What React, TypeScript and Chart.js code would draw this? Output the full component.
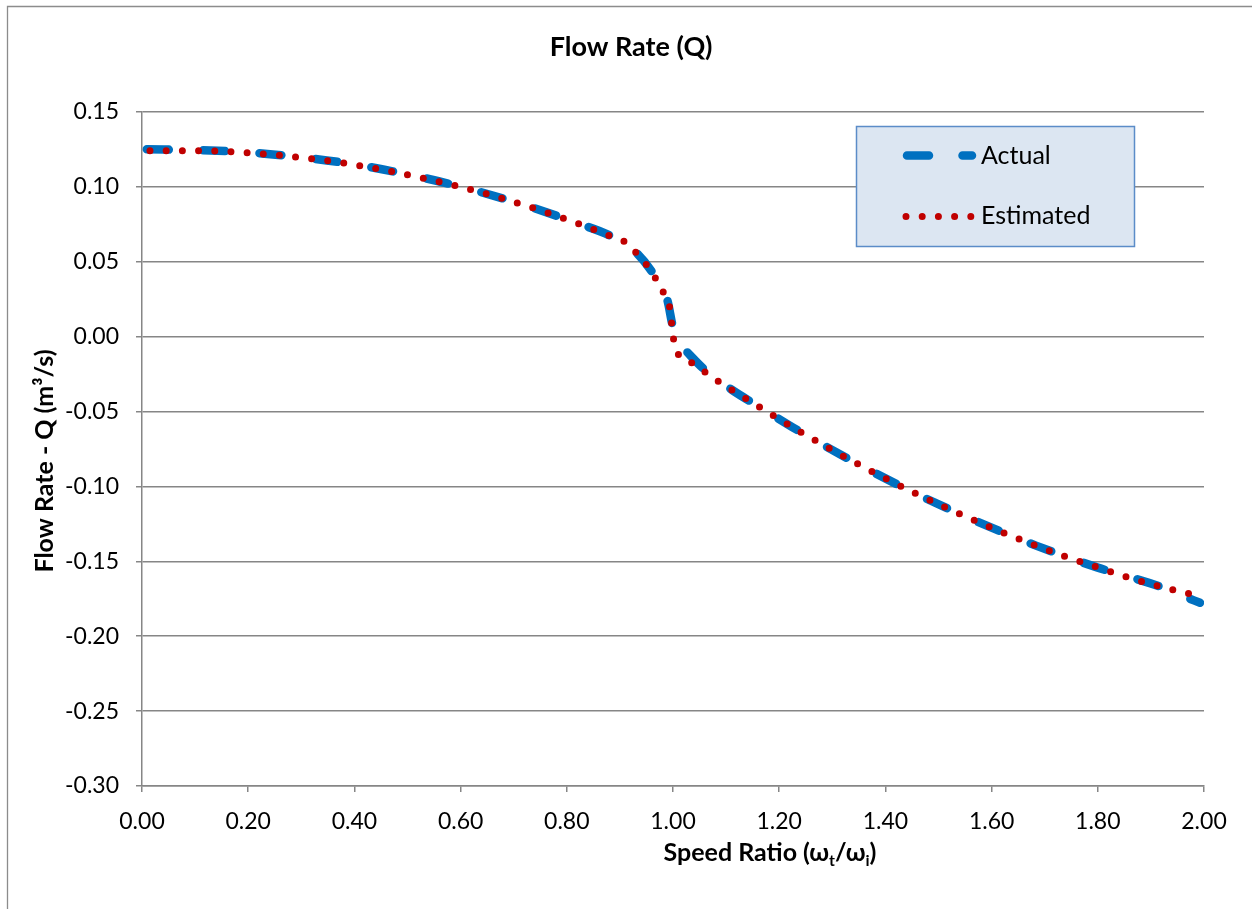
import React, { useEffect, useRef } from "react";
import { Chart, registerables } from "chart.js";

Chart.register(...registerables);

// ---- Data ----
const estX = [0.015, 0.107, 0.199, 0.291, 0.382, 0.412, 0.472, 0.533, 0.5926, 0.651, 0.71, 0.768, 0.826, 0.8827, 0.9115, 0.9317, 0.9505, 0.968, 0.9825, 0.9938, 0.9976, 1.0013, 1.01, 1.0358, 1.0608, 1.086, 1.1117, 1.138, 1.1638, 1.19, 1.242, 1.296, 1.3497, 1.4036, 1.459, 1.514, 1.5706, 1.6266, 1.6836, 1.741, 1.8, 1.857, 1.916, 1.976];
const estY = [0.1241, 0.1241, 0.1228, 0.1199, 0.1158, 0.114, 0.1102, 0.1055, 0.1007, 0.0951, 0.0889, 0.0822, 0.0749, 0.0671, 0.0629, 0.0556, 0.0478, 0.0385, 0.0291, 0.0193, 0.0083, -0.0022, -0.0117, -0.0175, -0.0237, -0.03, -0.0357, -0.0415, -0.0471, -0.0529, -0.064, -0.0749, -0.0853, -0.0953, -0.1051, -0.1142, -0.1231, -0.1315, -0.1395, -0.147, -0.154, -0.1607, -0.1667, -0.172];

const actX = [0.009, 0.107, 0.199, 0.291, 0.382, 0.472, 0.5926, 0.71, 0.826, 0.8827, 0.9317, 0.968, 0.9893, 0.9994, 1.01, 1.0258, 1.06, 1.1117, 1.1638, 1.242, 1.3497, 1.459, 1.5706, 1.6836, 1.8, 1.916, 1.961, 1.9925];
const actY = [0.1251, 0.1245, 0.1231, 0.1201, 0.116, 0.1104, 0.1008, 0.089, 0.075, 0.0672, 0.0558, 0.0392, 0.0245, 0.0071, -0.004, -0.01, -0.0222, -0.0357, -0.0471, -0.064, -0.0853, -0.1051, -0.1231, -0.1395, -0.1542, -0.1667, -0.1733, -0.1777];

const seriesNames = ["Actual", "Estimated"];
const chartTitle = "Flow Rate (Q)";
const yAxisTitle = "Flow Rate - Q (m³/s)";
const xMin = 0, xMax = 2, xStep = 0.2;
const yMin = -0.3, yMax = 0.15, yStep = 0.05;

const FONT = "Lato, 'Open Sans', sans-serif";
const BLUE = "#0070c0";
const RED = "#c00000";
const GRID = "#868686";

const decorPlugin = {
  id: "decor",
  beforeDraw(chart: any) {
    const ctx = chart.ctx;
    ctx.save();
    ctx.fillStyle = "#ffffff";
    ctx.fillRect(0, 0, chart.width, chart.height);
    ctx.restore();
  },
  afterDraw(chart: any) {
    const ctx = chart.ctx;
    ctx.save();
    // outer frame
    ctx.strokeStyle = "#8c8c8c";
    ctx.lineWidth = 1.3;
    ctx.beginPath();
    ctx.moveTo(7.5, chart.height + 5);
    ctx.lineTo(7.5, 6.5);
    ctx.lineTo(chart.width + 5, 6.5);
    ctx.stroke();

    // title
    ctx.fillStyle = "#000";
    ctx.font = `bold 27px ${FONT}`;
    ctx.textAlign = "center";
    ctx.textBaseline = "middle";
    ctx.fillText(chartTitle, 631, 47);

    // y title
    ctx.save();
    ctx.translate(45, 461);
    ctx.rotate(-Math.PI / 2);
    ctx.font = `bold 25px ${FONT}`;
    ctx.textAlign = "center";
    ctx.textBaseline = "middle";
    ctx.fillText(yAxisTitle, 0, 0);
    ctx.restore();

    // x title with subscripts
    const parts: [string, boolean][] = [
      ["Speed Ratio (ω", false],
      ["t", true],
      ["/ω", false],
      ["i", true],
      [")", false],
    ];
    const mainF = `bold 25px ${FONT}`;
    const subF = `bold 16px ${FONT}`;
    let total = 0;
    for (const [t, s] of parts) {
      ctx.font = s ? subF : mainF;
      total += ctx.measureText(t).width;
    }
    let x = 770 - total / 2;
    ctx.textAlign = "left";
    ctx.textBaseline = "alphabetic";
    const base = 861;
    for (const [t, s] of parts) {
      ctx.font = s ? subF : mainF;
      ctx.fillText(t, x, s ? base + 5 : base);
      x += ctx.measureText(t).width;
    }

    // legend
    ctx.fillStyle = "#dce6f2";
    ctx.fillRect(856.5, 126.5, 278, 120);
    ctx.strokeStyle = "#5b8cc8";
    ctx.lineWidth = 1.5;
    ctx.strokeRect(856.5, 126.5, 278, 120);

    ctx.lineCap = "round";
    ctx.strokeStyle = BLUE;
    ctx.lineWidth = 8.5;
    ctx.setLineDash([22, 33.5]);
    ctx.beginPath();
    ctx.moveTo(907, 155.5);
    ctx.lineTo(972, 155.5);
    ctx.stroke();

    ctx.strokeStyle = RED;
    ctx.lineWidth = 7;
    ctx.setLineDash([0, 16.2]);
    ctx.beginPath();
    ctx.moveTo(906, 216.5);
    ctx.lineTo(972, 216.5);
    ctx.stroke();
    ctx.setLineDash([]);

    ctx.fillStyle = "#000";
    ctx.font = `25px ${FONT}`;
    ctx.textAlign = "left";
    ctx.textBaseline = "middle";
    ctx.fillText(seriesNames[0], 981, 156);
    ctx.fillText(seriesNames[1], 981, 216);
    ctx.restore();
  },
};

export default function App() {
  const ref = useRef<HTMLCanvasElement | null>(null);
  useEffect(() => {
    document.body.style.margin = "0";
    const canvas = ref.current;
    if (!canvas) return;
    const chart = new Chart(canvas, {
      type: "scatter",
      data: {
        datasets: [
          {
            label: seriesNames[0],
            data: actX.map((x, i) => ({ x, y: actY[i] })),
            showLine: true,
            borderColor: BLUE,
            backgroundColor: BLUE,
            borderWidth: 8.5,
            borderDash: [22, 34.4],
            borderCapStyle: "round",
            pointRadius: 0,
            cubicInterpolationMode: "monotone",
            order: 2,
          } as any,
          {
            label: seriesNames[1],
            data: estX.map((x, i) => ({ x, y: estY[i] })),
            showLine: true,
            borderColor: RED,
            backgroundColor: RED,
            borderWidth: 7,
            borderDash: [0, 16.2],
            borderCapStyle: "round",
            pointRadius: 0,
            cubicInterpolationMode: "monotone",
            order: 1,
          } as any,
        ],
      },
      options: {
        animation: false,
        responsive: false,
        maintainAspectRatio: false,
        layout: { padding: { top: 112, right: 48, left: 0, bottom: 0 } },
        plugins: {
          legend: { display: false },
          tooltip: { enabled: false },
          title: { display: false },
        },
        scales: {
          x: {
            type: "linear",
            min: xMin,
            max: xMax,
            ticks: {
              stepSize: xStep,
              callback: (v: any) => Number(v).toFixed(2),
              font: { family: FONT, size: 23 },
              color: "#000",
              padding: 16,
              maxRotation: 0,
              autoSkip: false,
            },
            grid: {
              drawOnChartArea: false,
              drawTicks: true,
              tickLength: 6,
              color: GRID,
              lineWidth: 1.5,
            },
            border: { display: true, color: GRID, width: 1.5 },
            afterFit: (s: any) => {
              s.height = 123;
            },
          },
          y: {
            type: "linear",
            min: yMin,
            max: yMax,
            ticks: {
              stepSize: yStep,
              callback: (v: any) => {
                const n = Math.round(Number(v) * 100) / 100;
                return (Math.abs(n) < 1e-9 ? 0 : n).toFixed(2);
              },
              font: { family: FONT, size: 23 },
              color: "#000",
              padding: 17,
            },
            grid: {
              drawOnChartArea: true,
              drawTicks: true,
              tickLength: 6,
              color: GRID,
              lineWidth: 1.5,
            },
            border: { display: true, color: GRID, width: 1.5 },
            afterFit: (s: any) => {
              s.width = 142;
            },
          },
        },
      } as any,
      plugins: [decorPlugin],
    });
    return () => chart.destroy();
  }, []);
  return (
    <div style={{ width: 1252, height: 909, position: "relative" }}>
      <canvas ref={ref} width={1252} height={909} style={{ display: "block" }} />
    </div>
  );
}
